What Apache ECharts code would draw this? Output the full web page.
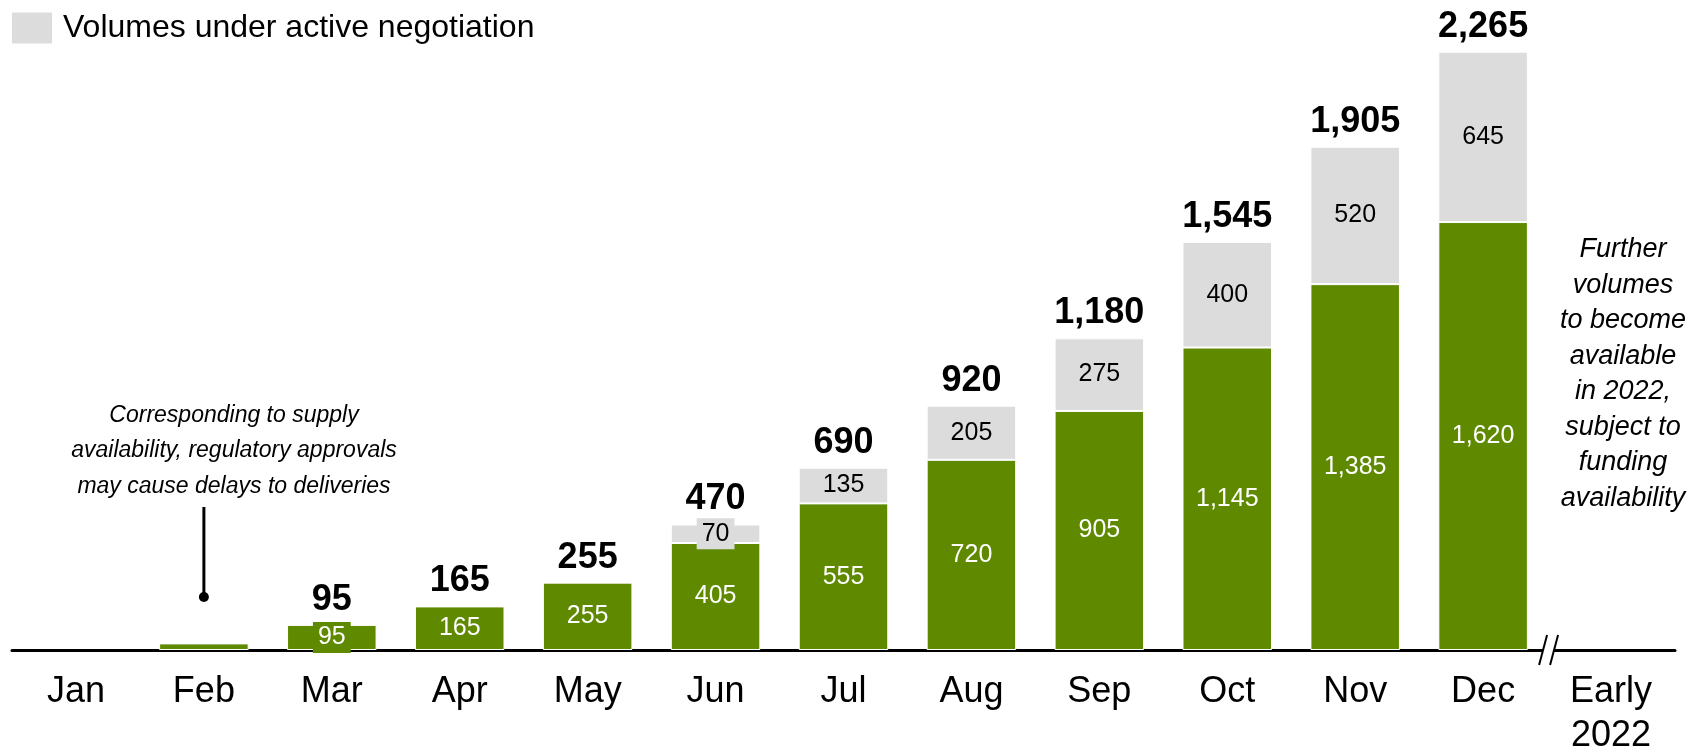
<!DOCTYPE html>
<html>
<head>
<meta charset="utf-8">
<title>Volumes by month</title>
<script src="https://cdn.jsdelivr.net/npm/echarts@6/dist/echarts.min.js"></script>
<style>
  html, body { margin: 0; padding: 0; background: #fff; }
  #chart { width: 1691px; height: 751px; }
</style>
</head>
<body>
<div id="chart"></div>
<script>
// categories on the x axis
const months = ['Jan', 'Feb', 'Mar', 'Apr', 'May', 'Jun', 'Jul', 'Aug', 'Sep', 'Oct', 'Nov', 'Dec', 'Early\n2022'];
// secured volumes (green part)
const secured = [null, 25, 95, 165, 255, 405, 555, 720, 905, 1145, 1385, 1620, null];
// volumes under active negotiation (grey part)
const negotiating = [null, null, null, null, null, 70, 135, 205, 275, 400, 520, 645, null];
// totals printed above each bar
const totals = [null, null, 95, 165, 255, 470, 690, 920, 1180, 1545, 1905, 2265, null];

const GREEN = '#5f8a00';
const GREY = '#dcdcdc';
const FONT = '"Liberation Sans", Arial, sans-serif';
const fmt = v => Number(v).toLocaleString('en-US');

const chart = echarts.init(document.getElementById('chart'));

chart.setOption({
    animation: false,
    textStyle: { fontFamily: FONT },
    grid: { left: 12, right: 16, top: 16, bottom: 101, containLabel: false, outerBoundsMode: 'none' },
    legend: {
        left: 12,
        top: 12,
        padding: 0,
        icon: 'rect',
        itemWidth: 40,
        itemHeight: 31,
        data: [{ name: 'Volumes under active negotiation', itemStyle: { color: GREY, borderWidth: 0 } }],
        textStyle: { fontSize: 32, color: '#000', fontFamily: FONT, padding: [0, 0, 0, 6] },
        selectedMode: false
    },
    xAxis: {
        type: 'category',
        data: months,
        axisLine: { lineStyle: { color: '#000', width: 3 } },
        axisTick: { show: false },
        axisLabel: {
            interval: 0,
            fontSize: 36,
            lineHeight: 44,
            color: '#000',
            margin: 20,
            fontFamily: FONT
        }
    },
    yAxis: { type: 'value', min: 0, max: 2400, show: false },
    series: [
        {
            name: 'Secured',
            type: 'bar',
            stack: 'vol',
            barCategoryGap: '30%',
            data: secured.map((v, i) => ({ value: v, label: { show: totals[i] != null } })),
            itemStyle: { color: GREEN, borderColor: '#fff', borderWidth: 1 },
            label: {
                position: 'inside',
                color: '#fff',
                fontSize: 25,
                lineHeight: 25,
                backgroundColor: GREEN,
                padding: [3, 5],
                formatter: p => fmt(p.value)
            }
        },
        {
            name: 'Volumes under active negotiation',
            type: 'bar',
            stack: 'vol',
            data: negotiating,
            itemStyle: { color: GREY, borderColor: '#fff', borderWidth: 1 },
            label: {
                show: true,
                position: 'inside',
                color: '#000',
                fontSize: 25,
                lineHeight: 25,
                backgroundColor: GREY,
                padding: [3, 5],
                formatter: p => fmt(p.value)
            }
        },
        {
            name: 'Total',
            type: 'bar',
            stack: 'vol',
            silent: true,
            data: totals.map(t => (t == null ? null : 0)),
            itemStyle: { color: 'transparent' },
            label: {
                show: true,
                position: 'top',
                distance: 7,
                color: '#000',
                fontSize: 36,
                fontWeight: 'bold',
                formatter: p => fmt(totals[p.dataIndex])
            }
        }
    ]
});

// axis break between Dec and Early 2022, plus the notes
const xDec = chart.convertToPixel({ xAxisIndex: 0 }, 11);
const xEarly = chart.convertToPixel({ xAxisIndex: 0 }, 12);
const xFeb = chart.convertToPixel({ xAxisIndex: 0 }, 1);
const yBase = chart.convertToPixel({ yAxisIndex: 0 }, 0);
const mid = (xDec + xEarly) / 2 + 2;

function note(size) {
    return {
        fontSize: size,
        fontStyle: 'italic',
        fontFamily: FONT,
        lineHeight: 35.5,
        fill: '#000',
        align: 'center',
        verticalAlign: 'middle'
    };
}

chart.setOption({
    graphic: [
        { type: 'rect', shape: { x: mid - 6, y: yBase - 3, width: 11, height: 6 }, style: { fill: '#fff' }, z: 10 },
        { type: 'line', shape: { x1: mid - 10, y1: yBase + 15, x2: mid - 2, y2: yBase - 15 }, style: { stroke: '#000', lineWidth: 2 }, z: 11 },
        { type: 'line', shape: { x1: mid + 1, y1: yBase + 15, x2: mid + 9, y2: yBase - 15 }, style: { stroke: '#000', lineWidth: 2 }, z: 11 },
        { type: 'line', shape: { x1: xFeb, y1: 507, x2: xFeb, y2: 597 }, style: { stroke: '#000', lineWidth: 3 }, z: 11 },
        { type: 'circle', shape: { cx: xFeb, cy: 597, r: 5 }, style: { fill: '#000' }, z: 11 },
        {
            type: 'text', x: 234, y: 451, z: 11,
            style: Object.assign({ text: 'Corresponding to supply\navailability, regulatory approvals\nmay cause delays to deliveries' }, note(23))
        },
        {
            type: 'text', x: 1623, y: 374, z: 11,
            style: Object.assign({ text: 'Further\nvolumes\nto become\navailable\nin 2022,\nsubject to\nfunding\navailability' }, note(27))
        }
    ]
});

window.addEventListener('resize', () => chart.resize());
</script>
</body>
</html>
